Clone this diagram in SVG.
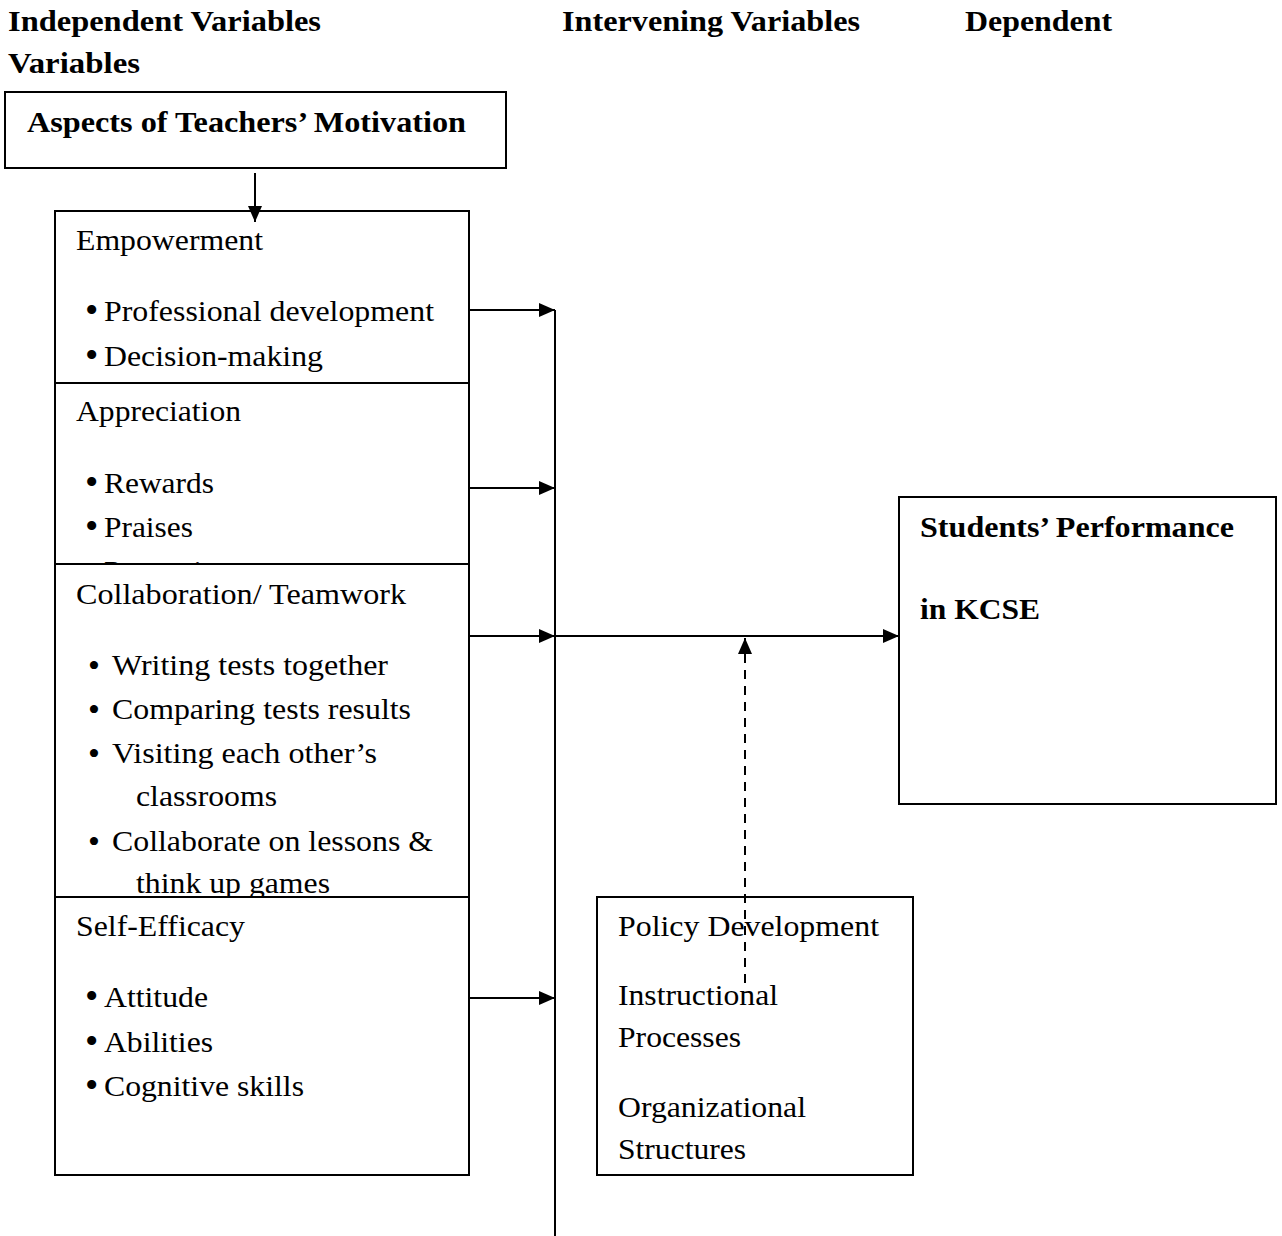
<svg xmlns="http://www.w3.org/2000/svg" width="1282" height="1236" viewBox="0 0 1282 1236">
<style>
text{font-family:"Liberation Serif","Times New Roman",serif;font-size:30px;fill:#000}
.b{font-weight:bold}
.bl{font-size:38px}
.bs{font-size:34px}
.box{fill:#fff;stroke:#000;stroke-width:2}
.ln{fill:none;stroke:#000;stroke-width:2}
.dash{fill:none;stroke:#000;stroke-width:2;stroke-dasharray:9,7}
</style>
<defs>
<marker id="ah" viewBox="0 0 16 14" refX="16" refY="7" markerWidth="16" markerHeight="14" markerUnits="userSpaceOnUse" orient="auto">
<path d="M0,0 L16,7 L0,14 Z" fill="#000"/>
</marker>
<clipPath id="clipApp"><rect x="55" y="383" width="414" height="181"/></clipPath>
</defs>
<rect width="1282" height="1236" fill="#fff"/>
<g id="headers">
<text class="b" x="8" y="31" textLength="313" lengthAdjust="spacingAndGlyphs">Independent Variables</text>
<text class="b" x="562" y="31" textLength="298" lengthAdjust="spacingAndGlyphs">Intervening Variables</text>
<text class="b" x="965" y="31" textLength="147" lengthAdjust="spacingAndGlyphs">Dependent</text>
<text class="b" x="8" y="73" textLength="132" lengthAdjust="spacingAndGlyphs">Variables</text>
</g>
<g id="aspects">
<rect class="box" x="5" y="92" width="501" height="76"/>
<text class="b" x="27" y="132" textLength="439" lengthAdjust="spacingAndGlyphs">Aspects of Teachers’ Motivation</text>
</g>
<g id="empowerment">
<rect class="box" x="55" y="211" width="414" height="230"/>
<text x="76" y="250" textLength="187" lengthAdjust="spacingAndGlyphs">Empowerment</text>
<text class="bl" x="85" y="323">•</text>
<text x="104" y="321" textLength="330" lengthAdjust="spacingAndGlyphs">Professional development</text>
<text class="bl" x="85" y="368">•</text>
<text x="104" y="366" textLength="219" lengthAdjust="spacingAndGlyphs">Decision-making</text>
</g>
<g id="appreciation">
<rect class="box" x="55" y="383" width="414" height="220"/>
<text x="76" y="421" textLength="165" lengthAdjust="spacingAndGlyphs">Appreciation</text>
<text class="bl" x="85" y="495">•</text>
<text x="104" y="493" textLength="110" lengthAdjust="spacingAndGlyphs">Rewards</text>
<text class="bl" x="85" y="539">•</text>
<text x="104" y="537" textLength="89" lengthAdjust="spacingAndGlyphs">Praises</text>
<g clip-path="url(#clipApp)">
<text x="104" y="581" textLength="140" lengthAdjust="spacingAndGlyphs">Promotions</text>
</g>
</g>
<g id="collaboration">
<rect class="box" x="55" y="564" width="414" height="383"/>
<text x="76" y="604" textLength="330" lengthAdjust="spacingAndGlyphs">Collaboration/ Teamwork</text>
<text class="bs" x="88" y="677">•</text>
<text x="112" y="675" textLength="276" lengthAdjust="spacingAndGlyphs">Writing tests together</text>
<text class="bs" x="88" y="721">•</text>
<text x="112" y="719" textLength="299" lengthAdjust="spacingAndGlyphs">Comparing tests results</text>
<text class="bs" x="88" y="765">•</text>
<text x="112" y="763" textLength="265" lengthAdjust="spacingAndGlyphs">Visiting each other’s</text>
<text x="136" y="806" textLength="141" lengthAdjust="spacingAndGlyphs">classrooms</text>
<text class="bs" x="88" y="853">•</text>
<text x="112" y="851" textLength="321" lengthAdjust="spacingAndGlyphs">Collaborate on lessons &amp;</text>
<text x="136" y="893" textLength="194" lengthAdjust="spacingAndGlyphs">think up games</text>
</g>
<g id="selfefficacy">
<rect class="box" x="55" y="897" width="414" height="278"/>
<text x="76" y="936" textLength="169" lengthAdjust="spacingAndGlyphs">Self-Efficacy</text>
<text class="bl" x="85" y="1009">•</text>
<text x="104" y="1007" textLength="104" lengthAdjust="spacingAndGlyphs">Attitude</text>
<text class="bl" x="85" y="1054">•</text>
<text x="104" y="1052" textLength="109" lengthAdjust="spacingAndGlyphs">Abilities</text>
<text class="bl" x="85" y="1098">•</text>
<text x="104" y="1096" textLength="200" lengthAdjust="spacingAndGlyphs">Cognitive skills</text>
</g>
<g id="students">
<rect class="box" x="899" y="497" width="377" height="307"/>
<text class="b" x="920" y="537" textLength="314" lengthAdjust="spacingAndGlyphs">Students’ Performance</text>
<text class="b" x="920" y="619" textLength="120" lengthAdjust="spacingAndGlyphs">in KCSE</text>
</g>
<g id="policy">
<rect class="box" x="597" y="897" width="316" height="278"/>
<text x="618" y="936" textLength="261" lengthAdjust="spacingAndGlyphs">Policy Development</text>
<text x="618" y="1005" textLength="160" lengthAdjust="spacingAndGlyphs">Instructional</text>
<text x="618" y="1047" textLength="123" lengthAdjust="spacingAndGlyphs">Processes</text>
<text x="618" y="1117" textLength="188" lengthAdjust="spacingAndGlyphs">Organizational</text>
<text x="618" y="1159" textLength="128" lengthAdjust="spacingAndGlyphs">Structures</text>
</g>
<g id="connectors">
<line class="ln" x1="255" y1="173" x2="255" y2="222" marker-end="url(#ah)"/>
<line class="ln" x1="555" y1="310" x2="555" y2="1236"/>
<line class="ln" x1="469" y1="310" x2="555" y2="310" marker-end="url(#ah)"/>
<line class="ln" x1="469" y1="488" x2="555" y2="488" marker-end="url(#ah)"/>
<line class="ln" x1="469" y1="636" x2="555" y2="636" marker-end="url(#ah)"/>
<line class="ln" x1="469" y1="998" x2="555" y2="998" marker-end="url(#ah)"/>
<line class="ln" x1="555" y1="636" x2="899" y2="636" marker-end="url(#ah)"/>
<line class="dash" x1="745" y1="983" x2="745" y2="638" marker-end="url(#ah)"/>
</g>
</svg>
